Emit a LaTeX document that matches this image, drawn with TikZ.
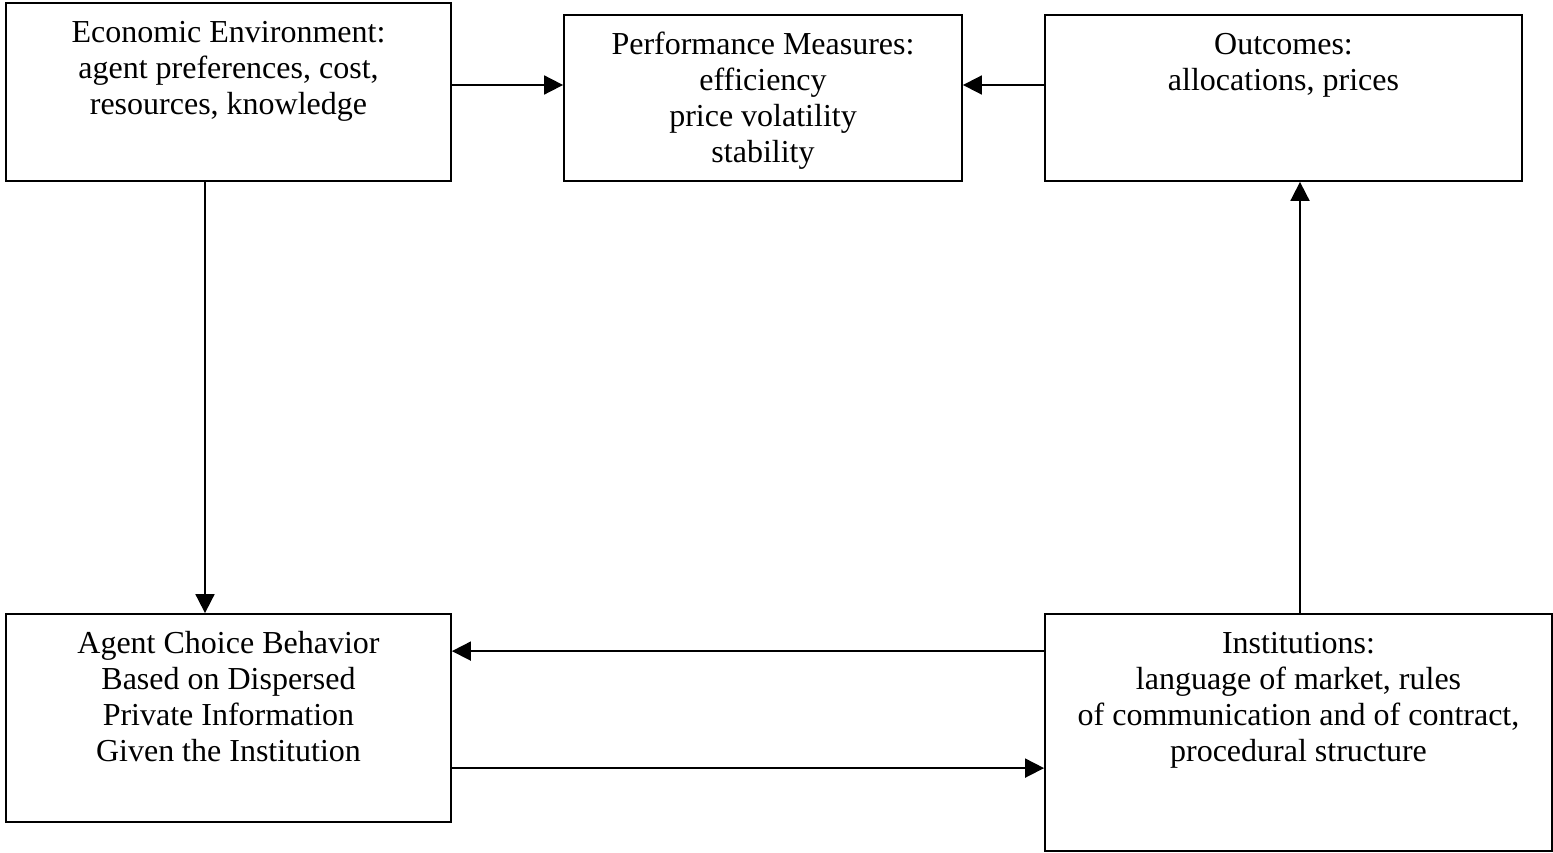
\documentclass[tikz,border=0pt]{standalone}
\usepackage{fontspec}
\setmainfont{Liberation Serif}
\usetikzlibrary{arrows.meta,positioning}

\begin{document}
\begin{tikzpicture}[x=1pt,y=-1pt, %% one unit = one pixel of the original
    box/.style={draw, line width=1.8pt, rectangle, inner sep=0pt},
    boxtext/.style={anchor=north, inner sep=0pt, align=center, font=\fontsize{32}{36}\selectfont},
    flow/.style={line width=1.8pt, -{Triangle[length=19pt,width=19pt]}}]
            \useasboundingbox (0,0) rectangle (1553,853);

            % the five boxes
            \node[box, minimum width=445, minimum height=178] (env) at (228.5,92) {};
            \node[box, minimum width=398, minimum height=166] (perf) at (763,98) {};
            \node[box, minimum width=477, minimum height=166] (out) at (1283.5,98) {};
            \node[box, minimum width=445, minimum height=208] (agent) at (228.5,718) {};
            \node[box, minimum width=507, minimum height=237] (inst) at (1298.5,732.5) {};

            % their texts, hung from the top edge
            \node[boxtext] (envtxt) at ([yshift=-15pt]env.north) {\strut Economic Environment:\\ agent preferences, cost,\\ resources, knowledge};
            \node[boxtext] (perftxt) at ([yshift=-15pt]perf.north) {\strut Performance Measures:\\ efficiency\\ price volatility\\ stability};
            \node[boxtext] (outtxt) at ([yshift=-15pt]out.north) {\strut Outcomes:\\ allocations, prices};
            \node[boxtext] (agenttxt) at ([yshift=-15pt]agent.north) {\strut Agent Choice Behavior\\ Based on Dispersed\\ Private Information\\ Given the Institution};
            \node[boxtext] (insttxt) at ([yshift=-15pt]inst.north) {\strut Institutions:\\ language of market, rules\\ of communication and of contract,\\ procedural structure};

            % connectors
            \coordinate (e1) at ([yshift=7pt]env.east);
            \coordinate (i0) at ([xshift=1.5pt]inst.north);
            \coordinate (i1) at ([yshift=-38pt]inst.north west);
            \coordinate (a1) at ([yshift=-155pt]agent.north east);

            \draw[flow] (e1) -- (e1 -| perf.west);
            \draw[flow] (e1 -| out.west) -- (e1 -| perf.east);
            \draw[flow] ([xshift=-23.5pt]env.south) -- ([xshift=-23.5pt]agent.north);
            \draw[flow] (i0) -- (i0 |- out.south);
            \draw[flow] (i1) -- (i1 -| agent.east);
            \draw[flow] (a1) -- (a1 -| inst.west);
\end{tikzpicture}
\end{document}
